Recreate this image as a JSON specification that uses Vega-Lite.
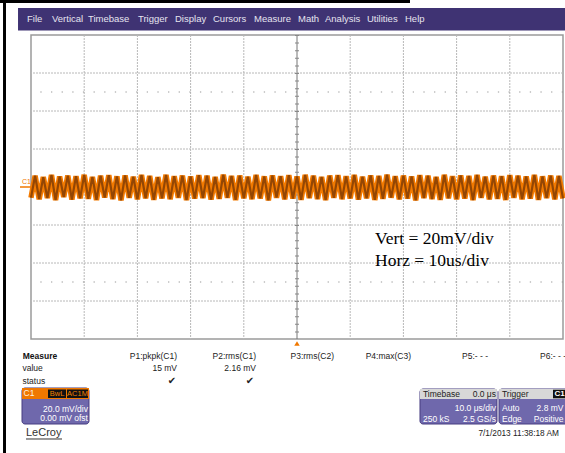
{
"$schema": "https://vega.github.io/schema/vega-lite/v6.json",
"width": 532, "height": 304,
"autosize": "none",
"padding": {"left": 31, "top": 35, "right": 2, "bottom": 114},
"background": "white",
"config": {"view": {"stroke": "#9a9a9a", "strokeWidth": 1.5}, "font": "Liberation Sans"},
"datasets": {
"vgrid": [{"t":-40},{"t":-30},{"t":-20},{"t":-10},{"t":10},{"t":20},{"t":30},{"t":40}],
"hgrid": [{"v":-60},{"v":-40},{"v":-20},{"v":20},{"v":40},{"v":60}],
"dots": [{"v":50},{"v":-50}],
"cx": [{"t":0}],
"cy": [{"v":0}],
"wave": [
{"t":-50,"v":-5.6},{"t":-49.23,"v":5.9},{"t":-48.46,"v":-6.4},{"t":-47.69,"v":5.2},{"t":-46.92,"v":-5.8},{"t":-46.15,"v":6.3},{"t":-45.38,"v":-6.9},{"t":-44.62,"v":5.5},{"t":-43.85,"v":-5.3},{"t":-43.08,"v":6.0},{"t":-42.31,"v":-6.6},{"t":-41.54,"v":5.7},{"t":-40.77,"v":-5.9},
{"t":-40,"v":6.4},{"t":-39.23,"v":-6.2},{"t":-38.46,"v":5.3},{"t":-37.69,"v":-6.8},{"t":-36.92,"v":5.9},{"t":-36.15,"v":-5.5},{"t":-35.38,"v":6.2},{"t":-34.62,"v":-6.3},{"t":-33.85,"v":5.6},{"t":-33.08,"v":-7.0},{"t":-32.31,"v":6.1},{"t":-31.54,"v":-5.7},{"t":-30.77,"v":5.4},
{"t":-30,"v":-6.5},{"t":-29.23,"v":6.3},{"t":-28.46,"v":-5.9},{"t":-27.69,"v":5.8},{"t":-26.92,"v":-6.7},{"t":-26.15,"v":5.2},{"t":-25.38,"v":-6.0},{"t":-24.62,"v":6.4},{"t":-23.85,"v":-6.4},{"t":-23.08,"v":5.7},{"t":-22.31,"v":-5.6},{"t":-21.54,"v":6.0},{"t":-20.77,"v":-6.9},
{"t":-20,"v":5.5},{"t":-19.23,"v":-6.1},{"t":-18.46,"v":6.2},{"t":-17.69,"v":-5.8},{"t":-16.92,"v":5.9},{"t":-16.15,"v":-6.6},{"t":-15.38,"v":5.3},{"t":-14.62,"v":-6.2},{"t":-13.85,"v":6.5},{"t":-13.08,"v":-5.7},{"t":-12.31,"v":5.8},{"t":-11.54,"v":-6.8},{"t":-10.77,"v":6.0},
{"t":-10,"v":-5.9},{"t":-9.23,"v":5.4},{"t":-8.46,"v":-6.4},{"t":-7.69,"v":6.3},{"t":-6.92,"v":-6.0},{"t":-6.15,"v":5.6},{"t":-5.38,"v":-7.0},{"t":-4.62,"v":6.1},{"t":-3.85,"v":-5.6},{"t":-3.08,"v":5.7},{"t":-2.31,"v":-6.5},{"t":-1.54,"v":6.2},{"t":-0.77,"v":-6.1},
{"t":0,"v":5.5},{"t":0.77,"v":-6.7},{"t":1.54,"v":6.4},{"t":2.31,"v":-5.8},{"t":3.08,"v":5.9},{"t":3.85,"v":-6.3},{"t":4.62,"v":5.3},{"t":5.38,"v":-6.9},{"t":6.15,"v":6.0},{"t":6.92,"v":-5.7},{"t":7.69,"v":6.2},{"t":8.46,"v":-6.4},{"t":9.23,"v":5.6},
{"t":10,"v":-6.0},{"t":10.77,"v":6.3},{"t":11.54,"v":-6.6},{"t":12.31,"v":5.4},{"t":13.08,"v":-5.9},{"t":13.85,"v":6.1},{"t":14.62,"v":-6.8},{"t":15.38,"v":5.8},{"t":16.15,"v":-6.2},{"t":16.92,"v":6.5},{"t":17.69,"v":-5.6},{"t":18.46,"v":5.7},{"t":19.23,"v":-6.5},
{"t":20,"v":6.0},{"t":20.77,"v":-6.1},{"t":21.54,"v":5.5},{"t":22.31,"v":-7.0},{"t":23.08,"v":6.2},{"t":23.85,"v":-5.8},{"t":24.62,"v":5.9},{"t":25.38,"v":-6.3},{"t":26.15,"v":5.3},{"t":26.92,"v":-6.7},{"t":27.69,"v":6.4},{"t":28.46,"v":-5.9},{"t":29.23,"v":5.6},
{"t":30,"v":-6.4},{"t":30.77,"v":6.1},{"t":31.54,"v":-6.0},{"t":32.31,"v":5.8},{"t":33.08,"v":-6.9},{"t":33.85,"v":6.3},{"t":34.62,"v":-5.7},{"t":35.38,"v":5.4},{"t":36.15,"v":-6.5},{"t":36.92,"v":6.0},{"t":37.69,"v":-6.2},{"t":38.46,"v":5.7},{"t":39.23,"v":-6.8},
{"t":40,"v":6.2},{"t":40.77,"v":-5.6},{"t":41.54,"v":5.9},{"t":42.31,"v":-6.4},{"t":43.08,"v":5.5},{"t":43.85,"v":-6.1},{"t":44.62,"v":6.3},{"t":45.38,"v":-6.7},{"t":46.15,"v":5.6},{"t":46.92,"v":-5.8},{"t":47.69,"v":6.0},{"t":48.46,"v":-6.5},{"t":49.23,"v":5.8},
{"t":50,"v":-6.0}
],
"panels": [
{"t":-51.69,"t2":-39.1,"v":-105.79,"v2":-124.74},
{"t":23.12,"t2":37.59,"v":-106.32,"v2":-124.74},
{"t":37.97,"t2":51.5,"v":-106.32,"v2":-124.74}
],
"rects": [
{"part":"frame","t":-55.83,"t2":21.24,"v":98.42,"v2":96.84},
{"part":"frame","t":-55.26,"t2":-54.7,"v":98.42,"v2":-140},
{"part":"menu","t":-52.44,"t2":51.0,"v":94.21,"v2":82.37},
{"part":"orange","t":-51.69,"t2":-39.1,"v":-105.79,"v2":-111.58},
{"part":"hdr","t":23.12,"t2":37.59,"v":-106.32,"v2":-111.58},
{"part":"hdr","t":37.97,"t2":51.5,"v":-106.32,"v2":-111.58},
{"part":"blk","t":-46.8,"t2":-43.42,"v":-106.58,"v2":-111.05},
{"part":"blk","t":-43.23,"t2":-39.29,"v":-106.58,"v2":-111.05},
{"part":"blk","t":48.12,"t2":50.56,"v":-106.7,"v2":-111.2}
],
"segs": [
{"g":"ul","t":-50.94,"t2":-44.17,"v":-132.63},
{"g":"c1","t":-52.07,"t2":-50.0,"v":0}
],
"trig": [{"t":0,"v":-82.37}],
"txt": [
{"g":"menu","t":-50.75,"v":88.5,"s":"File"},
{"g":"menu","t":-46.05,"v":88.5,"s":"Vertical"},
{"g":"menu","t":-39.29,"v":88.5,"s":"Timebase"},
{"g":"menu","t":-29.89,"v":88.5,"s":"Trigger"},
{"g":"menu","t":-22.93,"v":88.5,"s":"Display"},
{"g":"menu","t":-15.79,"v":88.5,"s":"Cursors"},
{"g":"menu","t":-8.08,"v":88.5,"s":"Measure"},
{"g":"menu","t":0.19,"v":88.5,"s":"Math"},
{"g":"menu","t":5.26,"v":88.5,"s":"Analysis"},
{"g":"menu","t":13.16,"v":88.5,"s":"Utilities"},
{"g":"menu","t":20.3,"v":88.5,"s":"Help"},
{"g":"mhead","t":-51.56,"v":-88.8,"s":"Measure"},
{"g":"mleft","t":-51.6,"v":-95.26,"s":"value"},
{"g":"mleft","t":-51.6,"v":-102.1,"s":"status"},
{"g":"mleft","t":45.68,"v":-88.8,"s":"P6:- - -"},
{"g":"mright","t":-22.56,"v":-88.8,"s":"P1:pkpk(C1)"},
{"g":"mright","t":-7.71,"v":-88.8,"s":"P2:rms(C1)"},
{"g":"mright","t":6.95,"v":-88.8,"s":"P3:rms(C2)"},
{"g":"mright","t":21.43,"v":-88.8,"s":"P4:max(C3)"},
{"g":"mright","t":35.9,"v":-88.8,"s":"P5:- - -"},
{"g":"mright","t":-22.56,"v":-95.26,"s":"15 mV"},
{"g":"mright","t":-7.71,"v":-95.26,"s":"2.16 mV"},
{"g":"check","t":-23.5,"v":-102.1,"s":"✔"},
{"g":"check","t":-8.83,"v":-102.1,"s":"✔"},
{"g":"pright","t":-39.29,"v":-116.84,"s":"20.0 mV/div"},
{"g":"pright","t":-39.29,"v":-121.58,"s":"0.00 mV ofst"},
{"g":"pright","t":37.41,"v":-116.32,"s":"10.0 μs/div"},
{"g":"pright","t":37.41,"v":-122.11,"s":"2.5 GS/s"},
{"g":"pright","t":50.1,"v":-116.32,"s":"2.8 mV"},
{"g":"pright","t":50.1,"v":-122.11,"s":"Positive"},
{"g":"pleft","t":23.68,"v":-122.11,"s":"250 kS"},
{"g":"pleft","t":38.53,"v":-116.32,"s":"Auto"},
{"g":"pleft","t":38.53,"v":-122.11,"s":"Edge"},
{"g":"hleft","t":23.68,"v":-108.95,"s":"Timebase"},
{"g":"hleft","t":38.53,"v":-108.95,"s":"Trigger"},
{"g":"hright","t":37.41,"v":-108.95,"s":"0.0 μs"},
{"g":"c1head","t":-51.41,"v":-108.68,"s":"C1"},
{"g":"tag","t":-45.11,"v":-108.8,"s":"BwL"},
{"g":"tag","t":-41.26,"v":-108.8,"s":"AC1M"},
{"g":"trc1","t":49.34,"v":-108.95,"s":"C1"},
{"g":"logo","t":-50.94,"v":-129.47,"s":"LeCroy"},
{"g":"date","t":49.25,"v":-130,"s":"7/1/2013 11:38:18 AM"},
{"g":"note","t":14.66,"v":-27.37,"s":"Vert = 20mV/div"},
{"g":"note","t":14.66,"v":-38.95,"s":"Horz = 10us/div"},
{"g":"c1mark","t":-51.69,"v":2.79,"s":"C1"}
]
},
"layer": [
{"data":{"name":"vgrid"},"mark":{"type":"rule","color":"#b8b8b8","strokeWidth":1,"strokeDash":[2,1]},
 "encoding":{"x":{"field":"t","type":"quantitative","scale":{"domain":[-50,50],"nice":false,"zero":false},"axis":null}}},
{"data":{"name":"hgrid"},"mark":{"type":"rule","color":"#b8b8b8","strokeWidth":1,"strokeDash":[2,1]},
 "encoding":{"y":{"field":"v","type":"quantitative","scale":{"domain":[-80,80],"nice":false,"zero":false},"axis":null}}},
{"data":{"name":"dots"},"mark":{"type":"rule","color":"#999999","strokeWidth":1.2,"strokeDash":[1.3,9.34]},
 "encoding":{"y":{"field":"v","type":"quantitative","scale":{"domain":[-80,80],"nice":false,"zero":false},"axis":null}}},
{"data":{"name":"cx"},"mark":{"type":"rule","color":"#777777","strokeWidth":1},
 "encoding":{"x":{"field":"t","type":"quantitative","scale":{"domain":[-50,50],"nice":false,"zero":false},"axis":null}}},
{"data":{"name":"cx"},"mark":{"type":"rule","color":"#888888","strokeWidth":4,"strokeDash":[1,6.6]},
 "encoding":{"x":{"field":"t","type":"quantitative","scale":{"domain":[-50,50],"nice":false,"zero":false},"axis":null}}},
{"data":{"name":"cy"},"mark":{"type":"rule","color":"#777777","strokeWidth":1},
 "encoding":{"y":{"field":"v","type":"quantitative","scale":{"domain":[-80,80],"nice":false,"zero":false},"axis":null}}},
{"data":{"name":"cy"},"mark":{"type":"rule","color":"#888888","strokeWidth":4,"strokeDash":[1,9.64]},
 "encoding":{"y":{"field":"v","type":"quantitative","scale":{"domain":[-80,80],"nice":false,"zero":false},"axis":null}}},
{"data":{"name":"wave"},"mark":{"type":"line","color":"#f27a00","strokeWidth":5.5,"strokeJoin":"miter"},
 "encoding":{"x":{"field":"t","type":"quantitative","scale":{"domain":[-50,50],"nice":false,"zero":false},"axis":null},
  "y":{"field":"v","type":"quantitative","scale":{"domain":[-80,80],"nice":false,"zero":false},"axis":null}}},
{"data":{"name":"wave"},"mark":{"type":"line","color":"#7a3a05","strokeWidth":2.2,"opacity":0.8},
 "encoding":{"x":{"field":"t","type":"quantitative","scale":{"domain":[-50,50],"nice":false,"zero":false},"axis":null},
  "y":{"field":"v","type":"quantitative","scale":{"domain":[-80,80],"nice":false,"zero":false},"axis":null}}},
{"data":{"name":"panels"},"mark":{"type":"rect","fill":"#6f68ac","stroke":"#463d80","strokeWidth":1,"cornerRadius":3},
 "encoding":{"x":{"field":"t","type":"quantitative","scale":{"domain":[-50,50],"nice":false,"zero":false},"axis":null},"x2":{"field":"t2"},
  "y":{"field":"v","type":"quantitative","scale":{"domain":[-80,80],"nice":false,"zero":false},"axis":null},"y2":{"field":"v2"}}},
{"data":{"name":"rects"},"mark":{"type":"rect"},
 "encoding":{"x":{"field":"t","type":"quantitative","scale":{"domain":[-50,50],"nice":false,"zero":false},"axis":null},"x2":{"field":"t2"},
  "y":{"field":"v","type":"quantitative","scale":{"domain":[-80,80],"nice":false,"zero":false},"axis":null},"y2":{"field":"v2"},
  "color":{"field":"part","type":"nominal","scale":{"domain":["frame","menu","orange","hdr","blk"],"range":["#000000","#3f3373","#f07800","#d8d8d8","#111111"]},"legend":null}}},
{"data":{"name":"segs"},"transform":[{"filter":"datum.g==='ul'"}],"mark":{"type":"rule","color":"#333333","strokeWidth":1},
 "encoding":{"x":{"field":"t","type":"quantitative","scale":{"domain":[-50,50],"nice":false,"zero":false},"axis":null},"x2":{"field":"t2"},
  "y":{"field":"v","type":"quantitative","scale":{"domain":[-80,80],"nice":false,"zero":false},"axis":null}}},
{"data":{"name":"segs"},"transform":[{"filter":"datum.g==='c1'"}],"mark":{"type":"rule","color":"#f07800","strokeWidth":1.5},
 "encoding":{"x":{"field":"t","type":"quantitative","scale":{"domain":[-50,50],"nice":false,"zero":false},"axis":null},"x2":{"field":"t2"},
  "y":{"field":"v","type":"quantitative","scale":{"domain":[-80,80],"nice":false,"zero":false},"axis":null}}},
{"data":{"name":"trig"},"mark":{"type":"point","shape":"triangle-up","filled":true,"color":"#f07800","size":30,"opacity":1},
 "encoding":{"x":{"field":"t","type":"quantitative","scale":{"domain":[-50,50],"nice":false,"zero":false},"axis":null},
  "y":{"field":"v","type":"quantitative","scale":{"domain":[-80,80],"nice":false,"zero":false},"axis":null}}},
{"data":{"name":"txt"},"transform":[{"filter":"datum.g==='menu'"}],"mark":{"type":"text","align":"left","baseline":"middle","fontSize":9.5,"color":"#e6e4f0"},
 "encoding":{"x":{"field":"t","type":"quantitative","scale":{"domain":[-50,50],"nice":false,"zero":false},"axis":null},
  "y":{"field":"v","type":"quantitative","scale":{"domain":[-80,80],"nice":false,"zero":false},"axis":null},"text":{"field":"s"}}},
{"data":{"name":"txt"},"transform":[{"filter":"datum.g==='mhead'"}],"mark":{"type":"text","align":"left","baseline":"middle","fontSize":8.5,"fontWeight":"bold","color":"#111111"},
 "encoding":{"x":{"field":"t","type":"quantitative","scale":{"domain":[-50,50],"nice":false,"zero":false},"axis":null},
  "y":{"field":"v","type":"quantitative","scale":{"domain":[-80,80],"nice":false,"zero":false},"axis":null},"text":{"field":"s"}}},
{"data":{"name":"txt"},"transform":[{"filter":"datum.g==='mleft'"}],"mark":{"type":"text","align":"left","baseline":"middle","fontSize":8.5,"color":"#222222"},
 "encoding":{"x":{"field":"t","type":"quantitative","scale":{"domain":[-50,50],"nice":false,"zero":false},"axis":null},
  "y":{"field":"v","type":"quantitative","scale":{"domain":[-80,80],"nice":false,"zero":false},"axis":null},"text":{"field":"s"}}},
{"data":{"name":"txt"},"transform":[{"filter":"datum.g==='mright'"}],"mark":{"type":"text","align":"right","baseline":"middle","fontSize":8.5,"color":"#222222"},
 "encoding":{"x":{"field":"t","type":"quantitative","scale":{"domain":[-50,50],"nice":false,"zero":false},"axis":null},
  "y":{"field":"v","type":"quantitative","scale":{"domain":[-80,80],"nice":false,"zero":false},"axis":null},"text":{"field":"s"}}},
{"data":{"name":"txt"},"transform":[{"filter":"datum.g==='check'"}],"mark":{"type":"text","align":"center","baseline":"middle","fontSize":10,"font":"DejaVu Sans","color":"#222222"},
 "encoding":{"x":{"field":"t","type":"quantitative","scale":{"domain":[-50,50],"nice":false,"zero":false},"axis":null},
  "y":{"field":"v","type":"quantitative","scale":{"domain":[-80,80],"nice":false,"zero":false},"axis":null},"text":{"field":"s"}}},
{"data":{"name":"txt"},"transform":[{"filter":"datum.g==='pright'"}],"mark":{"type":"text","align":"right","baseline":"middle","fontSize":8.5,"color":"#ffffff"},
 "encoding":{"x":{"field":"t","type":"quantitative","scale":{"domain":[-50,50],"nice":false,"zero":false},"axis":null},
  "y":{"field":"v","type":"quantitative","scale":{"domain":[-80,80],"nice":false,"zero":false},"axis":null},"text":{"field":"s"}}},
{"data":{"name":"txt"},"transform":[{"filter":"datum.g==='pleft'"}],"mark":{"type":"text","align":"left","baseline":"middle","fontSize":8.5,"color":"#ffffff"},
 "encoding":{"x":{"field":"t","type":"quantitative","scale":{"domain":[-50,50],"nice":false,"zero":false},"axis":null},
  "y":{"field":"v","type":"quantitative","scale":{"domain":[-80,80],"nice":false,"zero":false},"axis":null},"text":{"field":"s"}}},
{"data":{"name":"txt"},"transform":[{"filter":"datum.g==='hleft'"}],"mark":{"type":"text","align":"left","baseline":"middle","fontSize":8.5,"color":"#222222"},
 "encoding":{"x":{"field":"t","type":"quantitative","scale":{"domain":[-50,50],"nice":false,"zero":false},"axis":null},
  "y":{"field":"v","type":"quantitative","scale":{"domain":[-80,80],"nice":false,"zero":false},"axis":null},"text":{"field":"s"}}},
{"data":{"name":"txt"},"transform":[{"filter":"datum.g==='hright'"}],"mark":{"type":"text","align":"right","baseline":"middle","fontSize":8.5,"color":"#222222"},
 "encoding":{"x":{"field":"t","type":"quantitative","scale":{"domain":[-50,50],"nice":false,"zero":false},"axis":null},
  "y":{"field":"v","type":"quantitative","scale":{"domain":[-80,80],"nice":false,"zero":false},"axis":null},"text":{"field":"s"}}},
{"data":{"name":"txt"},"transform":[{"filter":"datum.g==='c1head'"}],"mark":{"type":"text","align":"left","baseline":"middle","fontSize":8.5,"color":"#fff1e0"},
 "encoding":{"x":{"field":"t","type":"quantitative","scale":{"domain":[-50,50],"nice":false,"zero":false},"axis":null},
  "y":{"field":"v","type":"quantitative","scale":{"domain":[-80,80],"nice":false,"zero":false},"axis":null},"text":{"field":"s"}}},
{"data":{"name":"txt"},"transform":[{"filter":"datum.g==='tag'"}],"mark":{"type":"text","align":"center","baseline":"middle","fontSize":7.5,"color":"#f08000"},
 "encoding":{"x":{"field":"t","type":"quantitative","scale":{"domain":[-50,50],"nice":false,"zero":false},"axis":null},
  "y":{"field":"v","type":"quantitative","scale":{"domain":[-80,80],"nice":false,"zero":false},"axis":null},"text":{"field":"s"}}},
{"data":{"name":"txt"},"transform":[{"filter":"datum.g==='trc1'"}],"mark":{"type":"text","align":"center","baseline":"middle","fontSize":8,"fontWeight":"bold","color":"#ffffff"},
 "encoding":{"x":{"field":"t","type":"quantitative","scale":{"domain":[-50,50],"nice":false,"zero":false},"axis":null},
  "y":{"field":"v","type":"quantitative","scale":{"domain":[-80,80],"nice":false,"zero":false},"axis":null},"text":{"field":"s"}}},
{"data":{"name":"txt"},"transform":[{"filter":"datum.g==='logo'"}],"mark":{"type":"text","align":"left","baseline":"middle","fontSize":11,"color":"#333333"},
 "encoding":{"x":{"field":"t","type":"quantitative","scale":{"domain":[-50,50],"nice":false,"zero":false},"axis":null},
  "y":{"field":"v","type":"quantitative","scale":{"domain":[-80,80],"nice":false,"zero":false},"axis":null},"text":{"field":"s"}}},
{"data":{"name":"txt"},"transform":[{"filter":"datum.g==='date'"}],"mark":{"type":"text","align":"right","baseline":"middle","fontSize":8.3,"color":"#222222"},
 "encoding":{"x":{"field":"t","type":"quantitative","scale":{"domain":[-50,50],"nice":false,"zero":false},"axis":null},
  "y":{"field":"v","type":"quantitative","scale":{"domain":[-80,80],"nice":false,"zero":false},"axis":null},"text":{"field":"s"}}},
{"data":{"name":"txt"},"transform":[{"filter":"datum.g==='note'"}],"mark":{"type":"text","align":"left","baseline":"middle","fontSize":17.5,"font":"Liberation Serif","color":"#000000"},
 "encoding":{"x":{"field":"t","type":"quantitative","scale":{"domain":[-50,50],"nice":false,"zero":false},"axis":null},
  "y":{"field":"v","type":"quantitative","scale":{"domain":[-80,80],"nice":false,"zero":false},"axis":null},"text":{"field":"s"}}},
{"data":{"name":"txt"},"transform":[{"filter":"datum.g==='c1mark'"}],"mark":{"type":"text","align":"left","baseline":"middle","fontSize":7,"color":"#f07800"},
 "encoding":{"x":{"field":"t","type":"quantitative","scale":{"domain":[-50,50],"nice":false,"zero":false},"axis":null},
  "y":{"field":"v","type":"quantitative","scale":{"domain":[-80,80],"nice":false,"zero":false},"axis":null},"text":{"field":"s"}}}
]
}
